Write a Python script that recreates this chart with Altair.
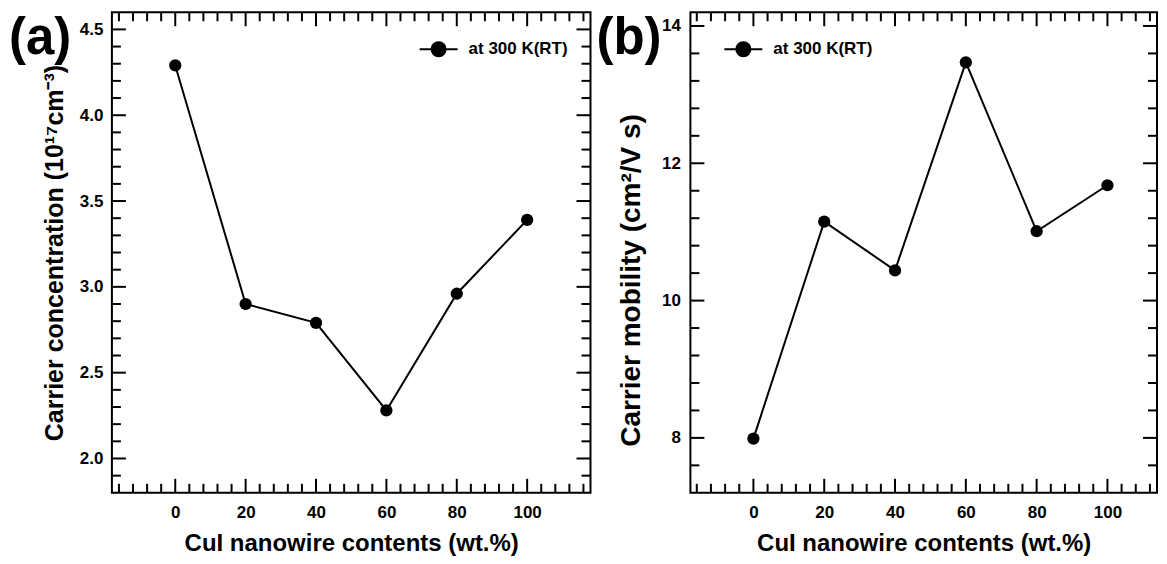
import altair as alt
import pandas as pd

# ---- data ----
x_wt = [0, 20, 40, 60, 80, 100]
carrier_conc = [4.29, 2.90, 2.79, 2.28, 2.96, 3.39]      # 10^17 cm^-3
carrier_mob = [7.99, 11.15, 10.44, 13.47, 11.01, 11.68]  # cm^2/V s
series_name = "at 300 K(RT)"

# ---- tick values ----
x_major = [0, 20, 40, 60, 80, 100]
x_minor_a = [-16, -12, -8, -4, 4, 8, 12, 16, 24, 28, 32, 36, 44, 48, 52, 56,
             64, 68, 72, 76, 84, 88, 92, 96, 104, 108, 112, 116]
x_minor_b = [-16, -12, -8, -4, 4, 8, 12, 16, 24, 28, 32, 36, 44, 48, 52, 56,
             64, 68, 72, 76, 84, 88, 92, 96, 104, 108, 112]
conc_major = [2.0, 2.5, 3.0, 3.5, 4.0, 4.5]
conc_minor = [1.9, 2.1, 2.2, 2.3, 2.4, 2.6, 2.7, 2.8, 2.9, 3.1, 3.2, 3.3, 3.4,
              3.6, 3.7, 3.8, 3.9, 4.1, 4.2, 4.3, 4.4]
mob_major = [8, 10, 12, 14]
mob_minor = [7.6, 8.4, 8.8, 9.2, 9.6, 10.4, 10.8, 11.2, 11.6, 12.4, 12.8,
             13.2, 13.6]

FONT = "Liberation Sans"
X_TITLE = "CuI nanowire contents (wt.%)"
LEGEND_PATH = ("M-1,0L1,0M0.37,0A0.37,0.37,0,1,1,-0.37,0"
               "A0.37,0.37,0,1,1,0.37,0Z")
H = 481
MAJ = 14
MIN = 9


def panel(yvals, ytitle, ydom, ymaj, ymin, yfmt, xdom, xmin, tag, tag_x,
          width, legend_x, ylabpad, ytitlepad, ytitle_size, ytitle_y=None):
    df = pd.DataFrame({"x": x_wt, "y": yvals,
                       "series": [series_name] * len(x_wt)})
    xs = alt.Scale(domain=xdom, nice=False, zero=False)
    ys = alt.Scale(domain=ydom, nice=False, zero=False)
    base = alt.Chart(df)

    x_lab = alt.Axis(orient="bottom", values=x_major, ticks=False,
                     domain=False, grid=False, labelPadding=12,
                     labelFont=FONT, labelFontSize=17, labelFontWeight="bold",
                     labelColor="black", title=X_TITLE, titleFont=FONT,
                     titleFontSize=24, titleFontWeight="bold",
                     titleColor="black", titlePadding=11)
    ykw = dict(orient="left", values=ymaj, format=yfmt, ticks=False,
               domain=False, grid=False, labelPadding=ylabpad,
               labelFont=FONT, labelFontSize=17, labelFontWeight="bold",
               labelColor="black", title=ytitle, titleFont=FONT,
               titleFontSize=ytitle_size, titleFontWeight="bold",
               titleColor="black", titlePadding=ytitlepad)
    if ytitle_y is not None:
        ykw["titleY"] = ytitle_y
    y_lab = alt.Axis(**ykw)

    line = base.mark_line(color="black", strokeWidth=2).encode(
        x=alt.X("x:Q", scale=xs, axis=x_lab),
        y=alt.Y("y:Q", scale=ys, axis=y_lab))

    def xticks(values, size, top):
        d = pd.DataFrame({"v": values})
        y0 = 0 if top else H
        y1 = size if top else H - size
        return alt.Chart(d).mark_rule(color="black", strokeWidth=2).encode(
            x=alt.X("v:Q", scale=xs, axis=None),
            y=alt.value(y0), y2=alt.value(y1))

    def yticks(values, size, right):
        d = pd.DataFrame({"v": values})
        x0 = width if right else 0
        x1 = width - size if right else size
        return alt.Chart(d).mark_rule(color="black", strokeWidth=2).encode(
            y=alt.Y("v:Q", scale=ys, axis=None),
            x=alt.value(x0), x2=alt.value(x1))

    ticks = [xticks(x_major, MAJ, False), xticks(xmin, MIN, False),
             xticks(x_major, MAJ, True), xticks(xmin, MIN, True),
             yticks(ymaj, MAJ, False), yticks(ymin, MIN, False),
             yticks(ymaj, MAJ, True), yticks(ymin, MIN, True)]

    pts = base.mark_point(filled=True, size=150, opacity=1).encode(
        x=alt.X("x:Q", scale=xs, axis=None),
        y=alt.Y("y:Q", scale=ys, axis=None),
        color=alt.Color(
            "series:N",
            scale=alt.Scale(domain=[series_name], range=["black"]),
            legend=alt.Legend(title=None, orient="none", legendX=legend_x,
                              legendY=17, symbolType=LEGEND_PATH,
                              symbolSize=1444, symbolStrokeWidth=2,
                              symbolStrokeColor="black",
                              symbolFillColor="black", labelFont=FONT,
                              labelFontSize=17, labelFontWeight="bold",
                              labelColor="black", labelOffset=10, padding=0)))

    tag_layer = alt.Chart(pd.DataFrame({"t": [tag]})).mark_text(
        align="left", baseline="middle", font=FONT, fontSize=51,
        fontWeight="bold", color="black").encode(
        text="t:N", x=alt.value(tag_x), y=alt.value(27))

    return alt.layer(line, *ticks, pts, tag_layer).resolve_axis(
        x="independent", y="independent").properties(width=width, height=H)


left = panel(carrier_conc, "Carrier concentration (10¹⁷cm⁻³)", [1.8, 4.6],
             conc_major, conc_minor, ".1f", [-18, 118], x_minor_a, "(a)",
             -103, 479, 307, 9, 12, 25)
right = panel(carrier_mob, "Carrier mobility (cm²/V s)", [7.2, 14.2],
              mob_major, mob_minor, "d", [-17.8, 114], x_minor_b, "(b)",
              -94, 467, 33, 10, 16, 28, ytitle_y=268)

chart = alt.hconcat(left, right, spacing=100, bounds="flush").resolve_scale(
    color="independent").resolve_legend(color="independent").configure_view(
    stroke="black", strokeWidth=2).properties(
    padding={"left": 0, "top": 2, "right": 0, "bottom": 0},
    background="white")

chart.save("out.html", embed_options={"renderer": "svg", "actions": False})
